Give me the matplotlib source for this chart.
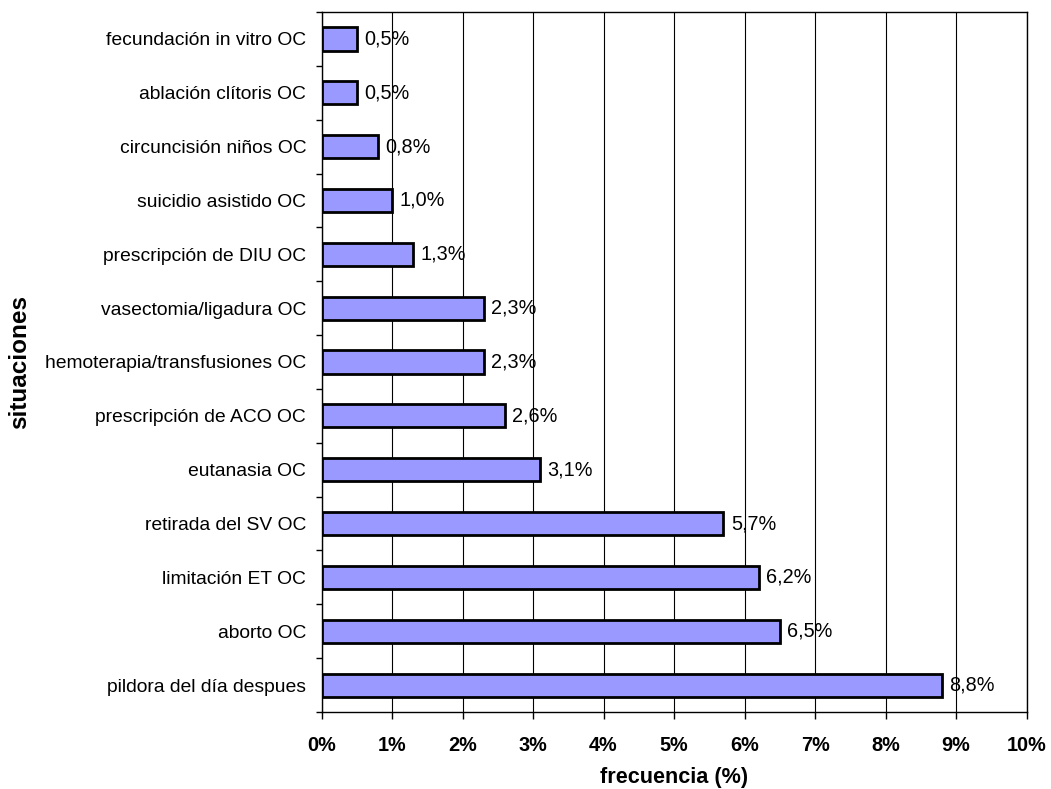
import matplotlib
matplotlib.use("Agg")
import matplotlib.pyplot as plt
import numpy as np

categories = [
    "pildora del día despues",
    "aborto OC",
    "limitación ET OC",
    "retirada del SV OC",
    "eutanasia OC",
    "prescripción de ACO OC",
    "hemoterapia/transfusiones OC",
    "vasectomia/ligadura OC",
    "prescripción de DIU OC",
    "suicidio asistido OC",
    "circuncisión niños OC",
    "ablación clítoris OC",
    "fecundación in vitro OC",
]
values = [8.8, 6.5, 6.2, 5.7, 3.1, 2.6, 2.3, 2.3, 1.3, 1.0, 0.8, 0.5, 0.5]
xticks = list(range(0, 11))

plt.rcParams['font.family'] = ['Liberation Sans', 'DejaVu Sans']

fig = plt.figure(figsize=(10.51, 7.89), dpi=100)
ax = fig.add_axes([321.5 / 1051, 1 - 712 / 789, (1026.5 - 321.5) / 1051, 700 / 789])

n = len(categories)
y = np.arange(n)
ax.barh(y, values, height=0.43, color='#9999FF', edgecolor='black', linewidth=2, zorder=3)

for yi, v in zip(y, values):
    ax.annotate(f"{v:.1f}%".replace('.', ','), (v, yi), xytext=(5.5, 0),
                textcoords='offset points', va='center', ha='left', fontsize=14.3, zorder=4)

ax.set_xlim(0, 10)
ax.set_ylim(-0.5, n - 0.5)
ax.set_xticks(xticks)
ax.set_xticklabels([f"{t}%" for t in xticks], fontsize=14.3, fontweight='bold')
ax.tick_params(axis='x', direction='out', length=5, width=1, pad=12)

# category labels centred on bars, ticks at the slot boundaries
ax.set_yticks(y)
ax.set_yticklabels(categories, fontsize=13.9)
ax.tick_params(axis='y', which='major', length=0, pad=11)
ax.set_yticks(np.arange(-0.5, n, 1.0), minor=True)
ax.tick_params(axis='y', which='minor', direction='out', length=4, width=1)

ax.grid(axis='x', color='black', linewidth=0.8, zorder=0)
for s in ax.spines.values():
    s.set_linewidth(1)
    s.set_color('black')

ax.set_xlabel("frecuencia (%)", fontsize=15.6, fontweight='bold', labelpad=9)
ax.set_ylabel("situaciones", fontsize=17.5, fontweight='bold', labelpad=10)

fig.savefig("out.png", dpi=100, facecolor='white')
